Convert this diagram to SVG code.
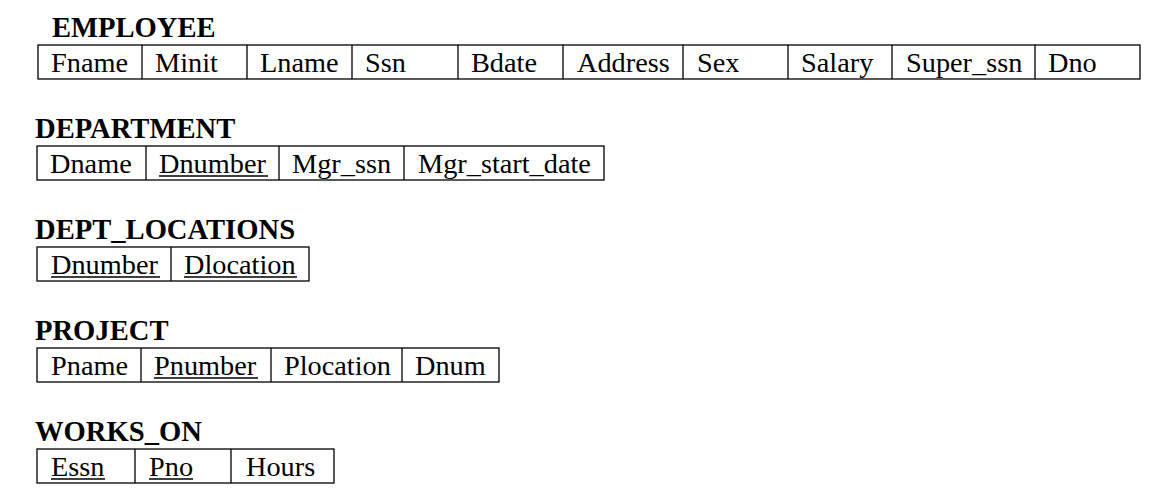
<svg xmlns="http://www.w3.org/2000/svg" width="1169" height="504" viewBox="0 0 1169 504">
<style>
.t{font-family:"Liberation Serif","Times New Roman",serif;font-size:28.6px;font-weight:bold;fill:#000}
.a{font-family:"Liberation Serif","Times New Roman",serif;font-size:28.3px;fill:#000}
.b{fill:#fff;stroke:#000;stroke-width:1.3}
.d{stroke:#000;stroke-width:1.3}
.u{stroke:#000;stroke-width:1.4}
</style>
<rect width="1169" height="504" fill="#fff"/>
<g id="employee">
<text class="t" x="52" y="37">EMPLOYEE</text>
<rect class="b" x="38" y="45" width="1102" height="34"/>
<line class="d" x1="142" y1="45" x2="142" y2="79"/>
<line class="d" x1="247" y1="45" x2="247" y2="79"/>
<line class="d" x1="352" y1="45" x2="352" y2="79"/>
<line class="d" x1="458" y1="45" x2="458" y2="79"/>
<line class="d" x1="563" y1="45" x2="563" y2="79"/>
<line class="d" x1="683" y1="45" x2="683" y2="79"/>
<line class="d" x1="788" y1="45" x2="788" y2="79"/>
<line class="d" x1="892" y1="45" x2="892" y2="79"/>
<line class="d" x1="1035" y1="45" x2="1035" y2="79"/>
<text class="a" x="51" y="72">Fname</text>
<text class="a" x="155" y="72">Minit</text>
<text class="a" x="260" y="72">Lname</text>
<text class="a" x="365" y="72">Ssn</text>
<text class="a" x="471" y="72">Bdate</text>
<text class="a" x="577" y="72">Address</text>
<text class="a" x="697" y="72">Sex</text>
<text class="a" x="801" y="72">Salary</text>
<text class="a" x="906" y="72">Super_ssn</text>
<text class="a" x="1048" y="72">Dno</text>
</g>
<g id="department">
<text class="t" x="35" y="138">DEPARTMENT</text>
<rect class="b" x="37" y="146" width="567" height="34"/>
<line class="d" x1="146" y1="146" x2="146" y2="180"/>
<line class="d" x1="279" y1="146" x2="279" y2="180"/>
<line class="d" x1="404" y1="146" x2="404" y2="180"/>
<text class="a" x="50" y="173">Dname</text>
<text class="a" x="159" y="173">Dnumber</text>
<line class="u" x1="159" y1="176" x2="268" y2="176"/>
<text class="a" x="292" y="173">Mgr_ssn</text>
<text class="a" x="418" y="173">Mgr_start_date</text>
</g>
<g id="dept_locations">
<text class="t" x="35" y="239">DEPT_LOCATIONS</text>
<rect class="b" x="37" y="247" width="272" height="34"/>
<line class="d" x1="171" y1="247" x2="171" y2="281"/>
<text class="a" x="51" y="274">Dnumber</text>
<line class="u" x1="51" y1="277" x2="160" y2="277"/>
<text class="a" x="184" y="274">Dlocation</text>
<line class="u" x1="184" y1="277" x2="297" y2="277"/>
</g>
<g id="project">
<text class="t" x="35" y="340">PROJECT</text>
<rect class="b" x="37" y="348" width="462" height="34"/>
<line class="d" x1="141" y1="348" x2="141" y2="382"/>
<line class="d" x1="271" y1="348" x2="271" y2="382"/>
<line class="d" x1="402" y1="348" x2="402" y2="382"/>
<text class="a" x="51" y="375">Pname</text>
<text class="a" x="154" y="375">Pnumber</text>
<line class="u" x1="154" y1="378" x2="258" y2="378"/>
<text class="a" x="284" y="375">Plocation</text>
<text class="a" x="415" y="375">Dnum</text>
</g>
<g id="works_on">
<text class="t" x="35" y="441">WORKS_ON</text>
<rect class="b" x="37" y="449" width="297" height="34"/>
<line class="d" x1="135" y1="449" x2="135" y2="483"/>
<line class="d" x1="231" y1="449" x2="231" y2="483"/>
<text class="a" x="51" y="476">Essn</text>
<line class="u" x1="51" y1="479" x2="105" y2="479"/>
<text class="a" x="149" y="476">Pno</text>
<line class="u" x1="149" y1="479" x2="193" y2="479"/>
<text class="a" x="246" y="476">Hours</text>
</g>
<g id="connectors"/>
</svg>
